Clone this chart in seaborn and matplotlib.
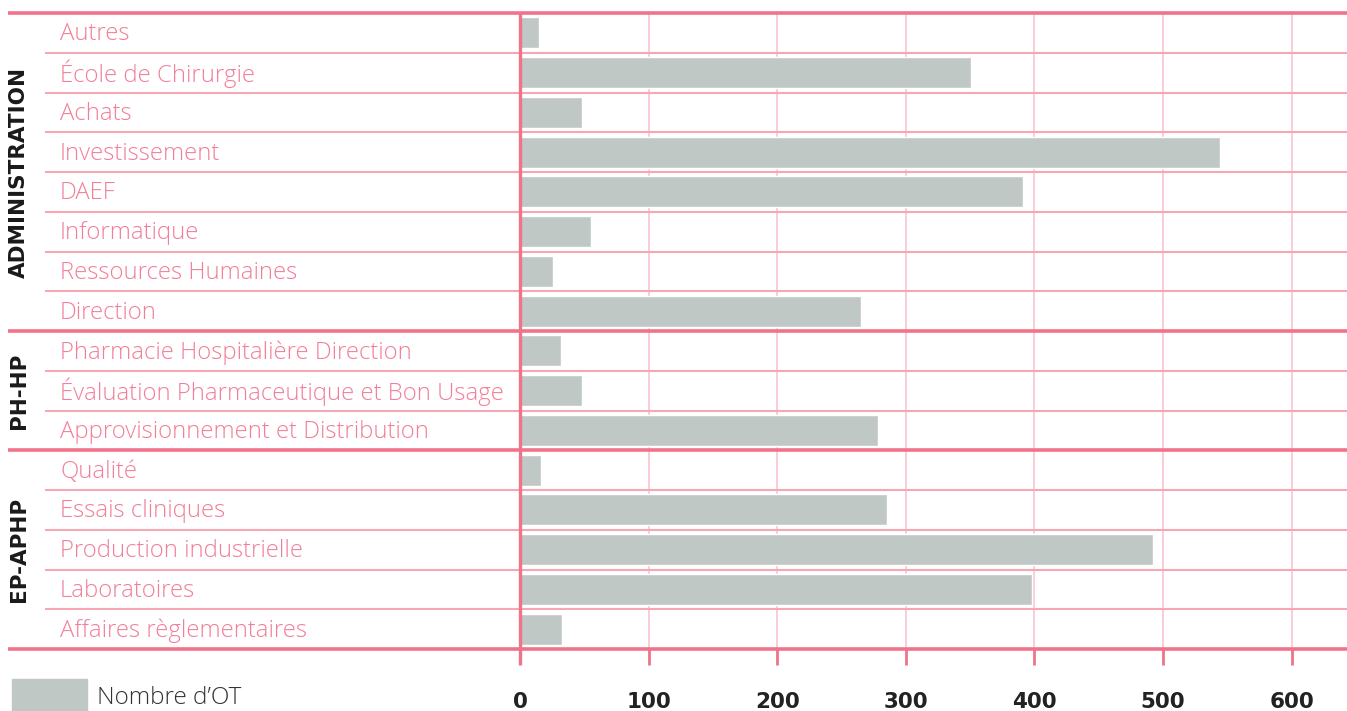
import matplotlib
matplotlib.use("Agg")
import matplotlib.pyplot as plt
import matplotlib.transforms as mtransforms
import seaborn as sns
import pandas as pd

# Data
categories = [
    "Autres", "École de Chirurgie", "Achats", "Investissement", "DAEF",
    "Informatique", "Ressources Humaines", "Direction",
    "Pharmacie Hospitalière Direction", "Évaluation Pharmaceutique et Bon Usage",
    "Approvisionnement et Distribution",
    "Qualité", "Essais cliniques", "Production industrielle", "Laboratoires",
    "Affaires règlementaires",
]
values = [15, 351, 48, 544, 391, 55, 26, 265, 32, 48, 278, 16, 285, 492, 398, 33]
groups = ["ADMINISTRATION", "PH-HP", "EP-APHP"]
group_sizes = [8, 3, 5]
ticks = [0, 100, 200, 300, 400, 500, 600]
legend_label = "Nombre d’OT"

BAR = "#bfc8c4"
PINK_TEXT = "#f27e98"
PINK_STRONG = "#ef7389"
PINK_THIN = "#f6a6b5"
PINK_GRID = "#fbc9d3"

sns.set_style("white")
plt.rcParams["font.family"] = ["Open Sans", "DejaVu Sans"]

W, H = 1347, 711
ROW = 39.75
fig = plt.figure(figsize=(W / 100, H / 100), dpi=100)
ax = fig.add_axes([520 / W, 1 - 649 / H, (W - 520) / W, (649 - 13) / H])

df = pd.DataFrame({"cat": categories, "val": values})
sns.barplot(data=df, y="cat", x="val", orient="h", color=BAR, width=0.78,
            saturation=1, ax=ax, zorder=3)

n = len(categories)
ax.set_xlim(0, 643)
ax.set_ylim(n - 0.5, -0.5)
ax.set_xlabel("")
ax.set_ylabel("")
ax.set_yticks([])
ax.set_xticks([])
for s in ax.spines.values():
    s.set_visible(False)

# vertical grid lines
for t in ticks[1:]:
    ax.axvline(t, color=PINK_GRID, lw=1.3, zorder=1)

# horizontal separators (figure-x, data-y)
trans = mtransforms.blended_transform_factory(fig.transFigure, ax.transData)
boundaries = [-0.5]
acc = 0
for g in group_sizes:
    acc += g
    boundaries.append(acc - 0.5)
for i in range(n + 1):
    y = i - 0.5
    if y in boundaries:
        ax.plot([8 / W, 1], [y, y], transform=trans, color=PINK_STRONG,
                lw=2.6, clip_on=False, zorder=4, solid_capstyle="butt")
    else:
        ax.plot([45 / W, 1], [y, y], transform=trans, color=PINK_THIN,
                lw=1.5, clip_on=False, zorder=2, solid_capstyle="butt")

# zero axis line and tick marks
ax.plot([0, 0], [-0.5, n - 0.5 + 16 / ROW], color=PINK_STRONG, lw=2.4,
        clip_on=False, zorder=5, solid_capstyle="butt")
for t in ticks[1:]:
    ax.plot([t, t], [n - 0.5, n - 0.5 + 16 / ROW], color=PINK_STRONG,
            lw=2.0, clip_on=False, zorder=5, solid_capstyle="butt")

# tick labels
for t in ticks:
    ax.text(t, n - 0.5 + 53 / ROW, str(t), ha="center", va="center",
            fontsize=15.5, fontweight="bold", color="#222222",
            family=["DejaVu Sans"], clip_on=False)

# category labels
for i, c in enumerate(categories):
    ax.text(60 / W, i + 1.5 / ROW, c, transform=trans, ha="left",
            va="center", fontsize=17.2, fontweight="light", color=PINK_TEXT)

# group labels
start = 0
for g, size in zip(groups, group_sizes):
    mid = start + size / 2 - 0.5
    ax.text(19 / W, mid, g, transform=trans, rotation=90, ha="center",
            va="center", fontsize=15.5, fontweight="bold", color="#1a1a1a",
            family=["DejaVu Sans"])
    start += size

# legend
fig.patches.append(plt.Rectangle((12 / W, 0), 75 / W, 32 / H,
                                 transform=fig.transFigure, color=BAR,
                                 zorder=1))
fig.text(97 / W, 1 - 698 / H, legend_label, ha="left", va="center",
         fontsize=17.5, fontweight="light", color="#333333")

fig.savefig("out.png", dpi=100)
